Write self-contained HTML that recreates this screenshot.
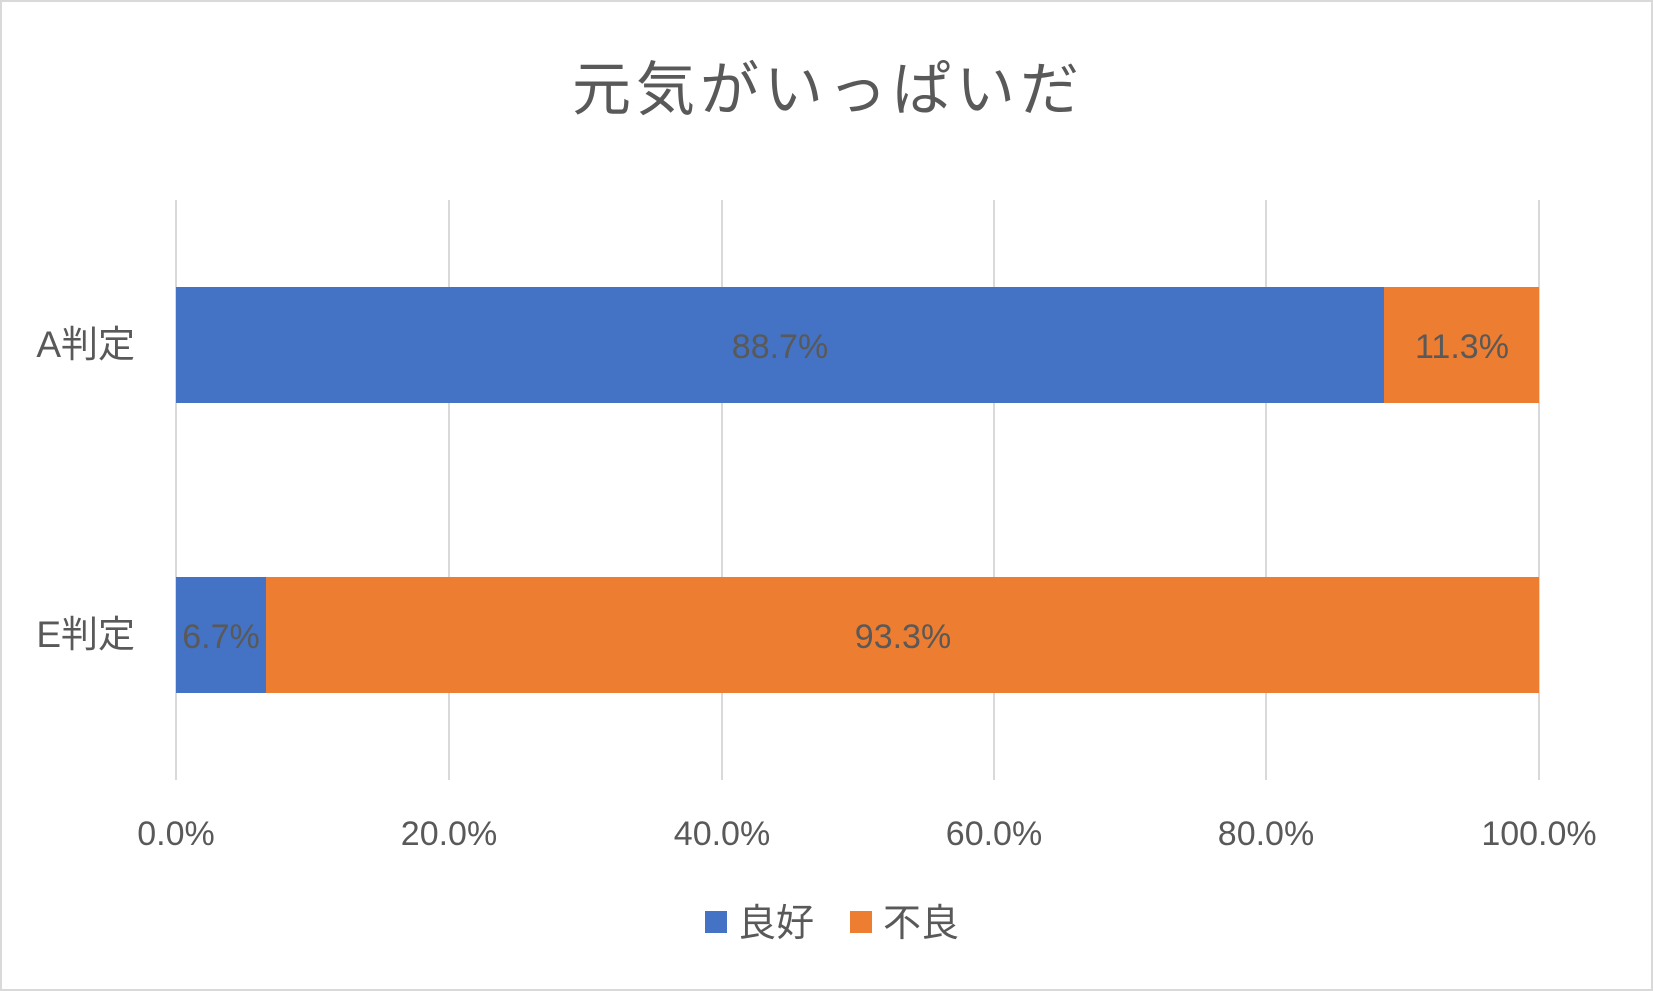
<!DOCTYPE html>
<html><head><meta charset="utf-8"><style>
body{margin:0;background:#fff}
svg{display:block}
text{font-family:"Liberation Sans","Noto Sans CJK JP",sans-serif;fill:#595959}
</style></head><body>
<svg width="1653" height="991" viewBox="0 0 1653 991">
<rect x="1" y="1" width="1651" height="989" fill="#fff" stroke="#d9d9d9" stroke-width="2"/>
<text x="828" y="110" font-size="59" text-anchor="middle" letter-spacing="5">元気がいっぱいだ</text>
<g stroke="#d9d9d9" stroke-width="2">
<line x1="176" y1="200" x2="176" y2="780"/>
<line x1="449" y1="200" x2="449" y2="780"/>
<line x1="722" y1="200" x2="722" y2="780"/>
<line x1="994" y1="200" x2="994" y2="780"/>
<line x1="1266" y1="200" x2="1266" y2="780"/>
<line x1="1539" y1="200" x2="1539" y2="780"/>
</g>
<rect x="176" y="287" width="1208" height="116" fill="#4472c4"/>
<rect x="1384" y="287" width="155" height="116" fill="#ed7d31"/>
<rect x="176" y="577" width="90" height="116" fill="#4472c4"/>
<rect x="266" y="577" width="1273" height="116" fill="#ed7d31"/>
<g font-size="34" text-anchor="middle">
<text x="780" y="358">88.7%</text>
<text x="1462" y="358">11.3%</text>
<text x="221" y="648">6.7%</text>
<text x="903" y="648">93.3%</text>
</g>
<g font-size="37" text-anchor="end">
<text x="135" y="357">A判定</text>
<text x="135" y="647">E判定</text>
</g>
<g font-size="34" text-anchor="middle">
<text x="176" y="845">0.0%</text>
<text x="449" y="845">20.0%</text>
<text x="722" y="845">40.0%</text>
<text x="994" y="845">60.0%</text>
<text x="1266" y="845">80.0%</text>
<text x="1539" y="845">100.0%</text>
</g>
<rect x="705" y="911" width="22" height="22" fill="#4472c4"/>
<text x="738" y="936" font-size="38">良好</text>
<rect x="850" y="911" width="22" height="22" fill="#ed7d31"/>
<text x="883" y="936" font-size="38">不良</text>
</svg>
</body></html>
